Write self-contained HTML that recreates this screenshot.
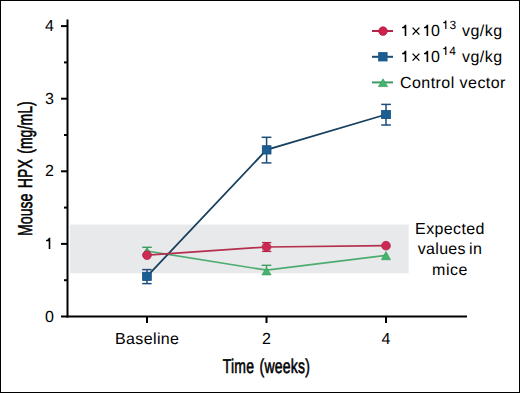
<!DOCTYPE html>
<html>
<head>
<meta charset="utf-8">
<style>
html,body{margin:0;padding:0;background:#fff;}
body{width:520px;height:393px;overflow:hidden;}
svg{display:block;}
text{font-family:"Liberation Sans",sans-serif;fill:#000;text-rendering:geometricPrecision;}
</style>
</head>
<body>
<svg width="520" height="393" viewBox="0 0 520 393">
  <defs>
    <path id="one" fill="#000" d="M4.3,-11.2 L5.9,-11.2 L5.9,0 L4.3,0 L4.3,-7.7 L1.7,-7.7 L1.7,-9.0 C3.2,-9.1 4.1,-9.9 4.3,-11.2 Z"/>
  </defs>
  <rect x="0.5" y="0.5" width="519" height="392" fill="#fff" stroke="#000" stroke-width="1"/>

  <!-- reference band -->
  <rect x="70" y="224.6" width="338.7" height="48.7" fill="#e8e9eb"/>

  <!-- axes -->
  <g stroke="#000" stroke-width="2" fill="none">
    <line x1="67.5" y1="19.6" x2="67.5" y2="317.5"/>
    <line x1="66.5" y1="316.5" x2="467" y2="316.5"/>
    <!-- y major ticks -->
    <line x1="61" y1="26.1" x2="67" y2="26.1"/>
    <line x1="61" y1="98.7" x2="67" y2="98.7"/>
    <line x1="61" y1="171.3" x2="67" y2="171.3"/>
    <line x1="61" y1="243.9" x2="67" y2="243.9"/>
    <line x1="61" y1="316.5" x2="67" y2="316.5"/>
    <!-- y minor ticks -->
    <line x1="64" y1="62.4" x2="67" y2="62.4"/>
    <line x1="64" y1="135" x2="67" y2="135"/>
    <line x1="64" y1="207.6" x2="67" y2="207.6"/>
    <line x1="64" y1="280.2" x2="67" y2="280.2"/>
    <!-- x ticks -->
    <line x1="147" y1="317" x2="147" y2="323"/>
    <line x1="266.5" y1="317" x2="266.5" y2="323"/>
    <line x1="386" y1="317" x2="386" y2="323"/>
  </g>

  <!-- y tick labels -->
  <g font-size="16" text-anchor="end">
    <text x="54" y="31">4</text>
    <text x="54" y="104">3</text>
    <text x="54" y="176">2</text>
    <text x="54" y="321.9">0</text>
  </g>
  <!-- x tick labels -->
  <g font-size="16" text-anchor="middle">
    <text x="147.2" y="344" letter-spacing="0.38">Baseline</text>
    <text x="266.5" y="344">2</text>
    <text x="386" y="344">4</text>
  </g>

  <!-- axis titles -->
  <text font-size="20" text-anchor="middle" stroke="#000" stroke-width="0.6" word-spacing="2" letter-spacing="0.3" transform="translate(266.4,373) scale(0.7,1)">Time (weeks)</text>
  <text font-size="20" text-anchor="middle" stroke="#000" stroke-width="0.6" letter-spacing="0.1" word-spacing="2" transform="translate(32,168.6) rotate(-90) scale(0.7,1)">Mouse HPX (mg/mL)</text>

  <!-- Expected values text -->
  <g font-size="16" text-anchor="middle">
    <text x="450" y="233.5" letter-spacing="0.38">Expected</text>
    <text x="450" y="254.2" letter-spacing="0.3" word-spacing="-1.5">values in</text>
    <text x="450" y="274.8" letter-spacing="0.5">mice</text>
  </g>

  <!-- green series -->
  <polyline points="147,251 266.5,270.2 386,255.4" stroke="#4dac6f" stroke-width="1.7" fill="none"/>
  <g stroke="#3c9e60" stroke-width="1.4" fill="none">
    <line x1="147" y1="247.3" x2="147" y2="251"/>
    <line x1="142.2" y1="247.3" x2="151.8" y2="247.3"/>
    <line x1="266.5" y1="265.3" x2="266.5" y2="271"/>
    <line x1="261.7" y1="265.3" x2="271.3" y2="265.3"/>
  </g>
  <g fill="#43b56a" stroke="#3a9c5e" stroke-width="0.7" stroke-linejoin="round">
    <polygon points="147,247.5 151.6,254.9 142.4,254.9"/>
    <polygon points="266.5,267.4 271.1,274.9 261.9,274.9"/>
    <polygon points="386,251.6 390.5,259.7 381.5,259.7"/>
  </g>

  <!-- blue series -->
  <polyline points="147,276.4 266.5,149.9 386,114.5" stroke="#17405f" stroke-width="1.8" fill="none"/>
  <g stroke="#1d4d77" stroke-width="1.5" fill="none">
    <line x1="147" y1="269.6" x2="147" y2="283.6"/>
    <line x1="142.2" y1="269.6" x2="151.6" y2="269.6"/>
    <line x1="142.2" y1="283.6" x2="151.6" y2="283.6"/>
    <line x1="266.6" y1="137.3" x2="266.6" y2="162.9"/>
    <line x1="261.6" y1="137.3" x2="271.4" y2="137.3"/>
    <line x1="261.6" y1="162.9" x2="271.4" y2="162.9"/>
    <line x1="386" y1="104.4" x2="386" y2="125"/>
    <line x1="381.2" y1="104.4" x2="390.9" y2="104.4"/>
    <line x1="381.2" y1="125" x2="390.9" y2="125"/>
  </g>
  <g fill="#1a5e93" stroke="#1b4d78" stroke-width="0.8">
    <rect x="142.6" y="272.3" width="8.7" height="8.2"/>
    <rect x="262.3" y="145.7" width="8.7" height="8.3"/>
    <rect x="381.6" y="110.5" width="8.9" height="8.1"/>
  </g>

  <!-- red series -->
  <polyline points="147,255.2 266.5,247 386,245.7" stroke="#b5304f" stroke-width="1.7" fill="none"/>
  <g stroke="#b4264b" stroke-width="1.3" fill="none">
    <line x1="262" y1="242.6" x2="271.3" y2="242.6"/>
    <line x1="262" y1="251.4" x2="271.3" y2="251.4"/>
  </g>
  <g fill="#cc2a52" stroke="#b02449" stroke-width="0.7">
    <circle cx="147" cy="255.2" r="4.4"/>
    <circle cx="266.5" cy="247" r="4.4"/>
    <circle cx="386" cy="245.7" r="4.4"/>
  </g>

  <!-- legend -->
  <g stroke-width="2">
    <line x1="372" y1="31" x2="393" y2="31" stroke="#b4244a"/>
    <line x1="372" y1="56.8" x2="393" y2="56.8" stroke="#1b4a72"/>
    <line x1="372" y1="82.4" x2="393" y2="82.4" stroke="#3d9a62"/>
  </g>
  <circle cx="383" cy="31.1" r="4.3" fill="#cf1f4b" stroke="#b01c44" stroke-width="0.7"/>
  <rect x="378.1" y="52.1" width="9.5" height="9.3" fill="#1a5c8f"/>
  <polygon points="383,78.8 387.6,86.6 378.4,86.6" fill="#43b56a" stroke="#3a9c5e" stroke-width="0.7" stroke-linejoin="round"/>

  <g font-size="16" letter-spacing="0.45">
    <use href="#one" x="44.4" y="249"/>
    <use href="#one" x="400.4" y="36"/>
    <use href="#one" x="422.3" y="36"/>
    <text x="430.9" y="36" letter-spacing="0">0</text>
    <use href="#one" transform="translate(442,29) scale(0.75)"/>
    <text x="449.5" y="29" font-size="12" letter-spacing="0">3</text>
    <text x="462" y="36">vg/kg</text>
    <use href="#one" x="400.4" y="62"/>
    <use href="#one" x="422.3" y="62"/>
    <text x="430.9" y="62" letter-spacing="0">0</text>
    <use href="#one" transform="translate(442,55) scale(0.75)"/>
    <text x="449.3" y="55" font-size="12" letter-spacing="0">4</text>
    <text x="462" y="62">vg/kg</text>
    <text x="400" y="88">Control vector</text>
  </g>
  <g stroke="#000" stroke-width="1.35" fill="none">
    <path d="M412.6,27.6 L419.4,34.6 M419.4,27.6 L412.6,34.6"/>
    <path d="M412.6,53.6 L419.4,60.6 M419.4,53.6 L412.6,60.6"/>
  </g>
</svg>
</body>
</html>
